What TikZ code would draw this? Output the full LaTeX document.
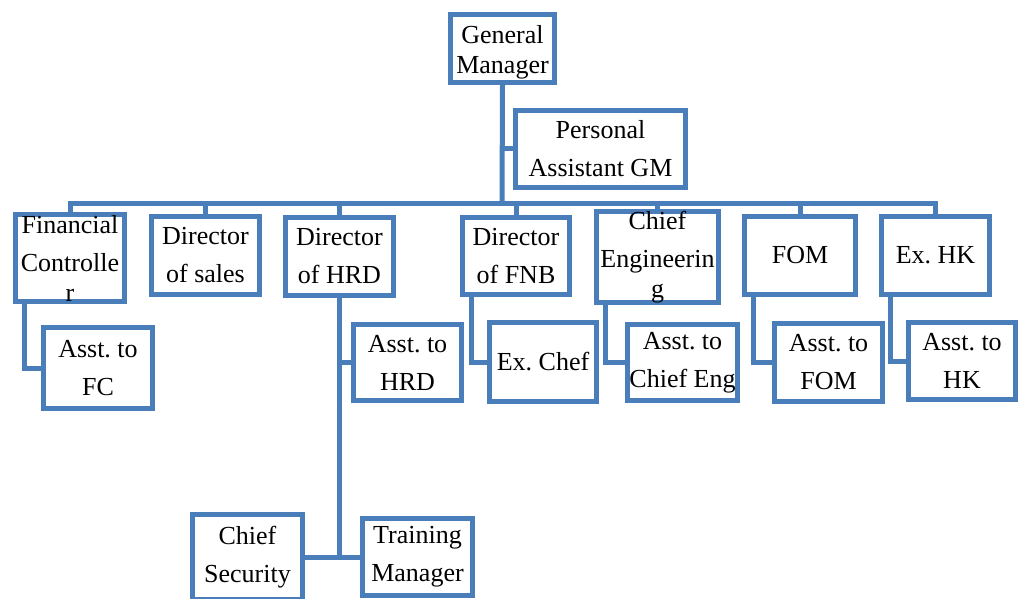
\documentclass[tikz,border=0pt]{standalone}
\usepackage{fontspec}
\setmainfont{Liberation Serif}
\usepackage{tikz}
\definecolor{orgblue}{RGB}{74,126,187}

\begin{document}
\begin{tikzpicture}[x=1pt,y=-1pt,
        box/.style={draw=orgblue,line width=5pt,fill=white,inner sep=0pt,align=center,
            font=\fontsize{26}{38}\selectfont\frenchspacing},
        link/.style={draw=orgblue,line width=5pt}]
        \useasboundingbox (0,0) rectangle (1021,599);
        \node[box,minimum width=104pt,minimum height=68pt] (gm) at (502.5,48.5) {\strut General\\[-8pt]Manager};
        \node[box,minimum width=170pt,minimum height=77pt] (pa) at (600.5,149) {Personal\\Assistant GM};
        \node[box,minimum width=109pt,minimum height=83pt] (fc) at (70,258) {Financial\\Controlle\\[-8pt]r};
        \node[box,minimum width=108pt,minimum height=78pt] (sales) at (205.5,255.5) {Director\\of sales};
        \node[box,minimum width=108pt,minimum height=78pt] (hrd) at (339.5,256.5) {Director\\of HRD};
        \node[box,minimum width=107pt,minimum height=77pt] (fnb) at (516,256) {Director\\of FNB};
        \node[box,minimum width=122pt,minimum height=81pt] (eng) at (657.5,257) {Chief\\Engineerin\\[-8pt]g};
        \node[box,minimum width=111pt,minimum height=78pt] (fom) at (800,255.5) {FOM};
        \node[box,minimum width=108pt,minimum height=78pt] (hk) at (935.5,255.5) {Ex. HK};
        \node[box,minimum width=109pt,minimum height=81pt] (afc) at (98,368) {Asst. to\\FC};
        \node[box,minimum width=108pt,minimum height=76pt] (ahrd) at (407.5,362.5) {Asst. to\\HRD};
        \node[box,minimum width=107pt,minimum height=79pt] (chef) at (543,362) {Ex. Chef};
        \node[box,minimum width=110pt,minimum height=76pt] (aeng) at (682.5,362.5) {Asst. to\\Chief Eng};
        \node[box,minimum width=108pt,minimum height=78pt] (afom) at (828.5,362.5) {Asst. to\\FOM};
        \node[box,minimum width=107pt,minimum height=77pt] (ahk) at (962,361) {Asst. to\\HK};
        \node[box,minimum width=110pt,minimum height=85pt] (sec) at (247.5,557) {Chief\\Security};
        \node[box,minimum width=110pt,minimum height=77pt] (train) at (417.5,557) {Training\\Manager};
        \coordinate (bus) at (502,204);
        \draw[link] (gm.south) -- (bus);
        \draw[link] (gm.south |- pa.west) -- (pa.west);
        \draw[link] (fc.north) |- (bus) -| (hk.north);
        \foreach \n in {sales,hrd,fnb,eng,fom}
            \draw[link] (\n.north) -- (\n.north |- bus);
        \draw[link] ([xshift=11pt]fc.south west) |- (afc.west);
        \draw[link] ([xshift=11pt]fnb.south west) |- (chef.west);
        \draw[link] ([xshift=11pt]eng.south west) |- (aeng.west);
        \draw[link] ([xshift=11pt]fom.south west) |- (afom.west);
        \draw[link] ([xshift=11pt]hk.south west) |- (ahk.west);
        \draw[link] (hrd.south) -- (hrd.south |- sec.east);
        \draw[link] (hrd.south |- ahrd.west) -- (ahrd.west);
        \draw[link] (sec.east) -- (train.west);
    \end{tikzpicture}
\end{document}
